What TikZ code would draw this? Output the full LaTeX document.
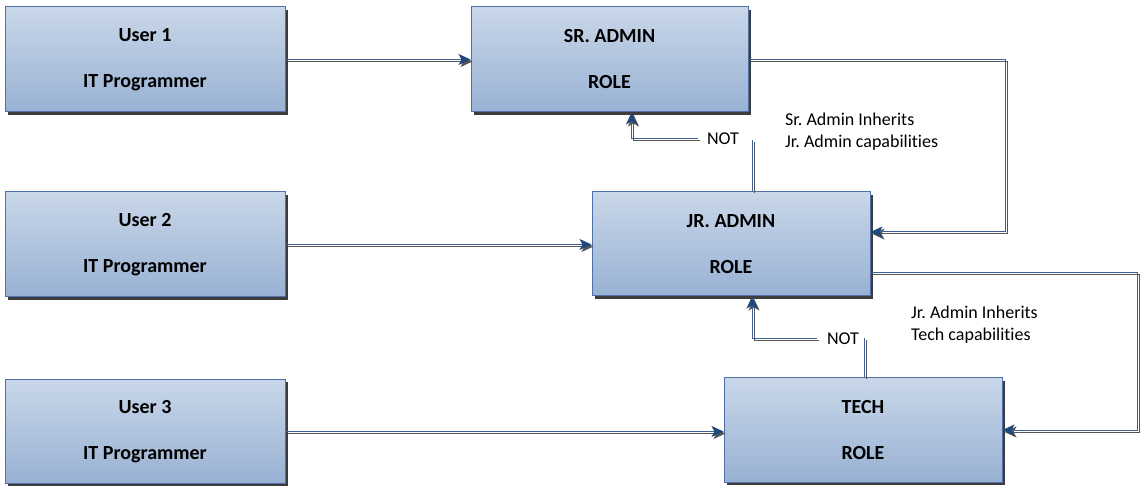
\documentclass[tikz,border=0pt]{standalone}
\usepackage{fontspec}
\setmainfont{Carlito}[Ligatures={NoCommon}]
\usetikzlibrary{arrows.meta,shadows}
\frenchspacing

\definecolor{boxtop}{RGB}{201,215,233}
\definecolor{boxbot}{RGB}{152,177,211}
\definecolor{boxedge}{RGB}{79,112,168}
\definecolor{shade}{RGB}{60,60,60}
\definecolor{wireblue}{RGB}{62,96,150}
\definecolor{wiregray}{RGB}{85,85,85}
\definecolor{tipblue}{RGB}{31,73,125}

\tikzset{
  rolebox/.style={draw=boxedge, line width=1pt, top color=boxtop, bottom color=boxbot,
    inner sep=0pt, minimum height=105pt, align=center,
    font=\fontsize{20}{46}\selectfont\bfseries,
    drop shadow={shadow xshift=3pt, shadow yshift=-3pt, fill=shade, opacity=1}},
  wire/.style={draw=wireblue, line width=1pt,
    preaction={draw=wiregray, line width=1pt, transform canvas={shift={(2pt,-2pt)}}}},
  flow/.style={draw=wireblue, line width=1pt,
    -{Stealth[length=12pt,width=11pt,inset=3pt,color=tipblue]},
    preaction={draw=wiregray, line width=1pt,
      -{Stealth[length=12pt,width=11pt,inset=3pt,color=wiregray]},
      transform canvas={shift={(2pt,-2pt)}}}},
  note/.style={font=\fontsize{18}{22}\selectfont, align=left, inner sep=0pt},
}

\begin{document}
\begin{tikzpicture}[x=1pt, y=-1pt]
  \useasboundingbox (0,0) rectangle (1144,486);

  % user boxes
  \node[rolebox, minimum width=280pt] (u1) at (145,59.5) {User 1\\IT Programmer};
  \node[rolebox, minimum width=280pt] (u2) at (145,244.5) {User 2\\IT Programmer};
  \node[rolebox, minimum width=280pt, minimum height=104pt] (u3) at (145,431.5) {User 3\\IT Programmer};

  % role boxes
  \node[rolebox, minimum width=277pt] (sr) at (609.5,59.5) {SR. ADMIN\\ROLE};
  \node[rolebox, minimum width=278pt, minimum height=104pt] (jr) at (731,244) {JR. ADMIN\\ROLE};
  \node[rolebox, minimum width=278pt, minimum height=104pt] (tech) at (863,430) {TECH\\ROLE};

  % user to role assignments
  \draw[flow] (u1.east) -- (sr.west);
  \draw[flow] (u2.east) -- (u2.east -| jr.west);
  \draw[flow] (u3.east) -- (u3.east -| tech.west);

  % inheritance loops on the right
  \coordinate (r1) at (1005,0);
  \coordinate (r2) at (1137,0);
  \draw[flow] (sr.east) -- (sr.east -| r1) |- ([yshift=12pt]jr.east);
  \draw[flow] ([yshift=-29pt]jr.east) -- ([yshift=-29pt]jr.east -| r2) |- (tech.east);

  % NOT links
  \node[note] (not1) at (723,139) {NOT};
  \coordinate (t1) at (752,140);
  \draw[wire] (jr.north -| t1) -- (t1);
  \draw[flow] ([xshift=-9pt]not1.west) -| ([xshift=22pt]sr.south);

  \node[note] (not2) at (843,339) {NOT};
  \coordinate (t2) at (864,338);
  \draw[wire] (tech.north -| t2) -- (t2);
  \draw[flow] ([xshift=-10pt]not2.west) -| ([xshift=21pt]jr.south);

  % captions
  \node[note, anchor=west] (n1) at (785,132) {Sr. Admin Inherits\\Jr. Admin capabilities};
  \node[note, anchor=west] (n2) at (911,324.5) {Jr. Admin Inherits\\Tech capabilities};
\end{tikzpicture}
\end{document}
